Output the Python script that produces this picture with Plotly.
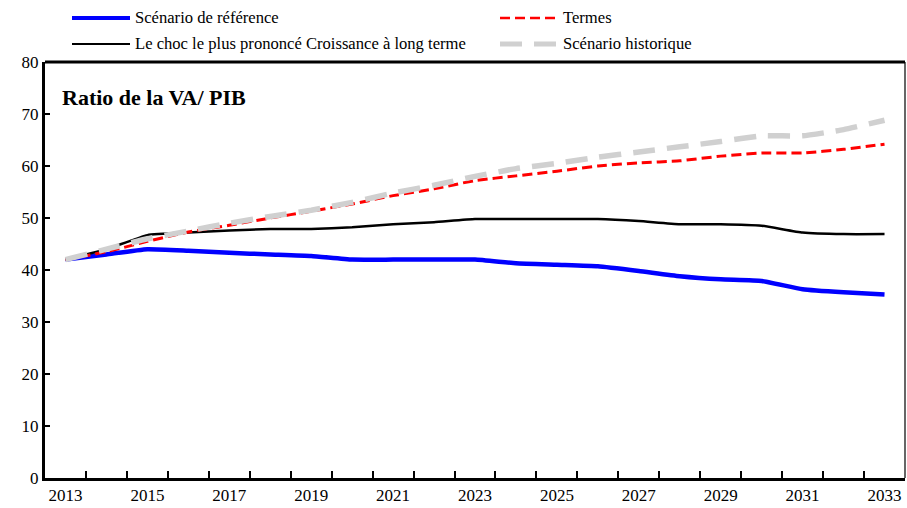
import plotly.graph_objects as go

# data
years = list(range(2013, 2034))
reference = [42.0, 43.0, 44.0, 43.7, 43.3, 43.0, 42.7, 42.0, 42.0, 42.0, 42.0,
             41.3, 41.0, 40.7, 39.8, 38.8, 38.2, 37.9, 36.3, 35.7, 35.3]
choc = [42.0, 44.0, 46.7, 47.2, 47.6, 47.9, 47.9, 48.2, 48.8, 49.2, 49.8,
        49.8, 49.8, 49.8, 49.4, 48.8, 48.8, 48.5, 47.2, 46.9, 46.9]
termes = [42.0, 43.5, 45.5, 47.3, 48.6, 50.0, 51.3, 52.7, 54.3, 55.6, 57.2,
          58.1, 59.0, 60.0, 60.6, 61.0, 61.9, 62.5, 62.5, 63.2, 64.2]
historique = [42.0, 44.0, 46.0, 47.5, 49.0, 50.3, 51.5, 53.0, 54.8, 56.3, 58.0,
              59.5, 60.5, 61.7, 62.7, 63.7, 64.7, 65.8, 65.8, 67.0, 68.8]

FONT = "'Liberation Serif', 'Times New Roman', serif"

series = [
    ("Scénario de référence", reference, dict(color="#0000ff", width=4.5)),
    ("Le choc le plus prononcé Croissance à long terme", choc, dict(color="black", width=2.5)),
    ("Termes", termes, dict(color="#ff0000", width=3, dash="10px,5px")),
    ("Scénario historique", historique, dict(color="#d0d0d0", width=5.5, dash="22px,12px")),
]

fig = go.Figure()
for name, vals, line in series:
    fig.add_trace(go.Scatter(x=years, y=vals, mode="lines", name=name,
                             line=dict(shape="spline", smoothing=0.4, **line),
                             showlegend=False))

# manual legend (two columns, two rows)
L = 45
W = 860
def px(x):
    return (x - L) / W

def py(y):
    return (478 - y) / 416

legend_pos = {
    "Scénario de référence": (72, py(18)),
    "Termes": (500, py(18)),
    "Le choc le plus prononcé Croissance à long terme": (72, py(44)),
    "Scénario historique": (500, py(44)),
}
shapes = []
annotations = []
for name, vals, line in series:
    x0, yy = legend_pos[name]
    shapes.append(dict(type="line", xref="paper", yref="paper",
                       x0=px(x0), x1=px(x0 + 58), y0=yy, y1=yy,
                       line=dict(color=line["color"], width=line["width"] - 0.5,
                                 dash=line.get("dash", "solid"))))
    annotations.append(dict(text=name, xref="paper", yref="paper",
                            x=px(x0 + 61), y=yy, xanchor="left", yanchor="middle",
                            showarrow=False, font=dict(family=FONT, size=16.6, color="black")))

# frame: thick top border, thin right border
shapes.append(dict(type="line", xref="paper", yref="paper", x0=0, x1=1, y0=1, y1=1,
                   line=dict(color="black", width=3)))
shapes.append(dict(type="line", xref="paper", yref="paper", x0=1, x1=1, y0=0, y1=1,
                   line=dict(color="black", width=1.2)))

annotations.append(dict(text="<b>Ratio de la VA/ PIB</b>", xref="paper", yref="paper",
                        x=px(60), y=py(97), xanchor="left", yanchor="middle",
                        showarrow=False, font=dict(family=FONT, size=22, color="black")))

fig.update_layout(
    width=907, height=508,
    margin=dict(l=45, r=2, t=62, b=30, autoexpand=False),
    plot_bgcolor="white", paper_bgcolor="white",
    font=dict(family=FONT, size=17, color="black"),
    shapes=shapes, annotations=annotations,
    xaxis=dict(range=[2012.5, 2033.5], tickvals=years[::2], ticks="", automargin=False,
               showgrid=False, zeroline=False, showline=True, linecolor="black", linewidth=3,
               tickfont=dict(family=FONT, size=17),
               minor=dict(tickvals=[y + 0.5 for y in years[:-1]], ticks="inside",
                          ticklen=7, tickwidth=2, tickcolor="black", showgrid=False)),
    yaxis=dict(range=[0, 80], dtick=10, ticks="inside", ticklen=5, tickwidth=2, automargin=False,
               tickcolor="black", showgrid=False, zeroline=False, showline=True,
               linecolor="black", linewidth=3, tickfont=dict(family=FONT, size=17)),
)

# drop the page's default body margin so the 907x508 figure fills the window
fig.write_html("out.html", config={"displayModeBar": False},
               post_script="document.body.style.margin='0';document.body.style.overflow='hidden';")
